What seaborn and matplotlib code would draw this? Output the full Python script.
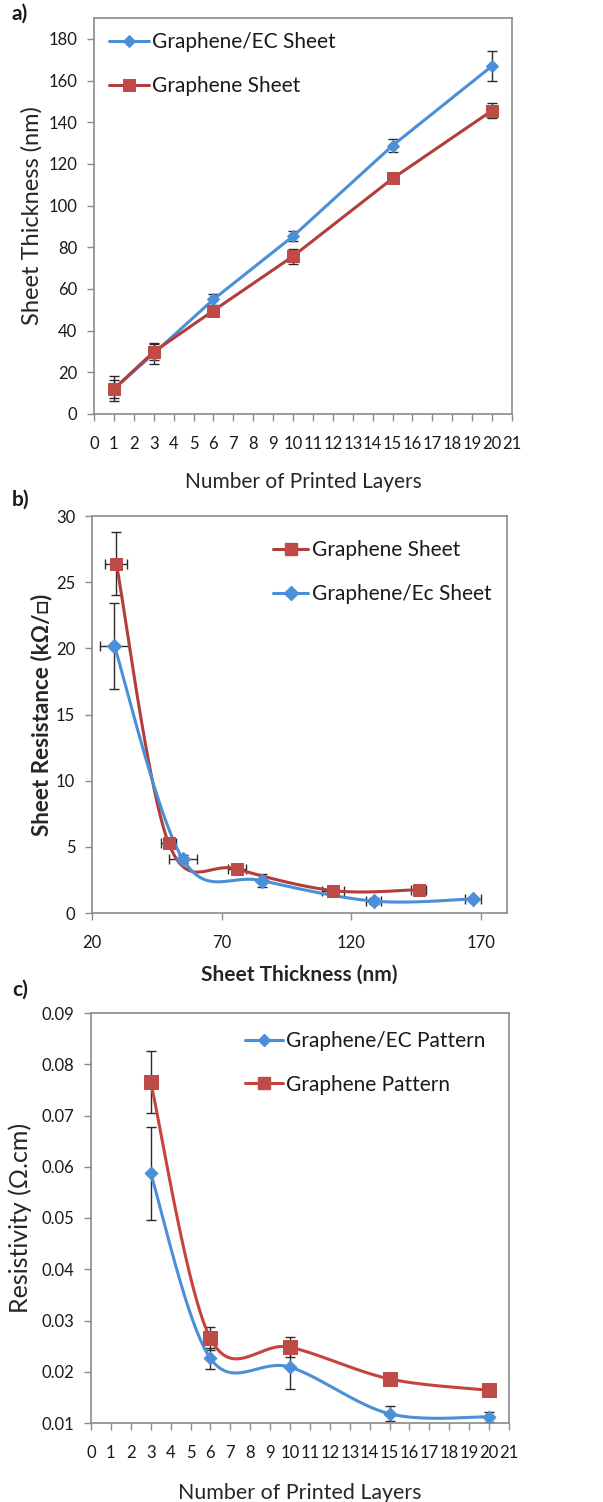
import numpy as np
import pandas as pd
import matplotlib
matplotlib.use('Agg')
import matplotlib.pyplot as plt
import seaborn as sns
from matplotlib.lines import Line2D

# ---- data ----
layers_a = [1, 3, 6, 10, 15, 20]
ec_thick = [12, 29, 55, 85.3, 128.8, 167]
ec_thick_err = [6, 5, 2.5, 2.5, 3, 7]
gr_thick = [12, 29.8, 49.6, 75.7, 113, 145.6]
gr_thick_err = [4.5, 4, 2, 3.5, 2, 3.5]

gr_b_x = [29.4, 49.5, 75.8, 113, 145.9]
gr_b_xerr = [4.2, 3, 3.5, 4.3, 3]
gr_b_y = [26.4, 5.3, 3.33, 1.69, 1.76]
gr_b_yerr = [2.4, 0.4, 0.2, 0.2, 0.15]
ec_b_x = [28.6, 55, 85.4, 128.6, 166.8]
ec_b_xerr = [5.6, 5.3, 0.5, 3, 3]
ec_b_y = [20.2, 4.08, 2.45, 0.9, 1.06]
ec_b_yerr = [3.25, 0.3, 0.5, 0.2, 0.15]

layers_c = [3, 6, 10, 15, 20]
ec_res = [0.0587, 0.0226, 0.0209, 0.0118, 0.0112]
ec_res_err = [0.009, 0.002, 0.0043, 0.0015, 0.001]
gr_res = [0.0765, 0.0265, 0.0248, 0.0186, 0.0164]
gr_res_err = [0.006, 0.0022, 0.002, 0.0012, 0.0005]

BLUE = '#4A8FD8'
RED = '#BE4B48'
RED_LINE = '#B23E3C'
ERR = '#2b2b2b'
SPINE = '#8a8a8a'


def smooth(x, y, xlim, ylim, w, h, n=40):
    # Excel-like smoothed line: cardinal Bezier through the points, in screen space
    px = (np.asarray(x, float) - xlim[0]) / (xlim[1] - xlim[0]) * w
    py = (np.asarray(y, float) - ylim[0]) / (ylim[1] - ylim[0]) * h
    pts = np.column_stack([px, py])
    out = []
    for i in range(len(pts) - 1):
        p0 = pts[max(i - 1, 0)]
        p1 = pts[i]
        p2 = pts[i + 1]
        p3 = pts[min(i + 2, len(pts) - 1)]
        c1 = p1 + (p2 - p0) / 6
        c2 = p2 - (p3 - p1) / 6
        t = np.linspace(0, 1, n)[:, None]
        seg = ((1 - t) ** 3) * p1 + 3 * ((1 - t) ** 2) * t * c1 + 3 * (1 - t) * t ** 2 * c2 + t ** 3 * p2
        out.append(seg if i == 0 else seg[1:])
    out = np.vstack(out)
    sx = out[:, 0] / w * (xlim[1] - xlim[0]) + xlim[0]
    sy = out[:, 1] / h * (ylim[1] - ylim[0]) + ylim[0]
    return sx, sy


sns.set_style('white')
plt.rcParams['font.family'] = ['Lato', 'DejaVu Sans']
plt.rcParams['text.color'] = '#1a1a1a'

fig = plt.figure(figsize=(6.03, 15.02), dpi=100)
W, H = 603, 1502


def make_axes(left, top, right, bottom):
    return fig.add_axes([left / W, 1 - bottom / H, (right - left) / W, (bottom - top) / H])


def style(ax):
    for s in ax.spines.values():
        s.set_color(SPINE)
        s.set_linewidth(1.2)
    ax.tick_params(direction='out', length=5, width=1, color=SPINE, labelsize=12,
                   labelcolor='#1a1a1a', bottom=True, left=True, top=False, right=False)
    ax.tick_params(axis='x', pad=10.5)
    ax.tick_params(axis='y', pad=7)


# ==================== a) ====================
ax1 = make_axes(94, 18, 512, 414)
style(ax1)
ax1.errorbar(layers_a, ec_thick, yerr=ec_thick_err, fmt='none', ecolor=ERR, elinewidth=1, capsize=3.5, zorder=2)
ax1.errorbar(layers_a, gr_thick, yerr=gr_thick_err, fmt='none', ecolor=ERR, elinewidth=1, capsize=3.5, zorder=2)
sns.lineplot(x=layers_a, y=ec_thick, ax=ax1, color=BLUE, lw=2.2, marker='D', markersize=6,
             markeredgecolor=BLUE, label='Graphene/EC Sheet', zorder=3)
sns.lineplot(x=layers_a, y=gr_thick, ax=ax1, color=RED_LINE, lw=2.2, marker='s', markersize=9,
             markerfacecolor=RED, markeredgecolor=RED, label='Graphene Sheet', zorder=4)
ax1.set_xlim(0, 21)
ax1.set_ylim(0, 190)
ax1.set_xticks(range(0, 22))
ax1.set_yticks(range(0, 181, 20))
ax1.set_xlabel('Number of Printed Layers', fontsize=15, labelpad=15)
ax1.set_ylabel('Sheet Thickness (nm)', fontsize=17, labelpad=4)
ax1.legend(loc='upper left', bbox_to_anchor=(0.011, 0.99), frameon=False, fontsize=15,
           handlelength=1.9, handletextpad=0.15, labelspacing=1.13, borderpad=0)

# ==================== b) ====================
ax2 = make_axes(92, 516, 507, 913)
style(ax2)
xl2, yl2 = (20, 180), (0, 30)
ax2.errorbar(gr_b_x, gr_b_y, xerr=gr_b_xerr, yerr=gr_b_yerr, fmt='none', ecolor=ERR, elinewidth=1, capsize=3.5, zorder=2)
ax2.errorbar(ec_b_x, ec_b_y, xerr=ec_b_xerr, yerr=ec_b_yerr, fmt='none', ecolor=ERR, elinewidth=1, capsize=3.5, zorder=2)
sx, sy = smooth(gr_b_x, gr_b_y, xl2, yl2, 415, 397)
sns.lineplot(x=sx, y=sy, ax=ax2, sort=False, estimator=None, color=RED_LINE, lw=2.2, zorder=3)
sx, sy = smooth(ec_b_x, ec_b_y, xl2, yl2, 415, 397)
sns.lineplot(x=sx, y=sy, ax=ax2, sort=False, estimator=None, color=BLUE, lw=2.2, zorder=3)
sns.scatterplot(x=gr_b_x, y=gr_b_y, ax=ax2, marker='s', s=80, color=RED, edgecolor=RED, zorder=4)
sns.scatterplot(x=ec_b_x, y=ec_b_y, ax=ax2, marker='D', s=55, color=BLUE, edgecolor=BLUE, zorder=4)
ax2.set_xlim(*xl2)
ax2.set_ylim(*yl2)
ax2.set_xticks([20, 70, 120, 170])
ax2.set_yticks(range(0, 31, 5))
ax2.set_xlabel('Sheet Thickness (nm)', fontsize=15, fontweight='bold', labelpad=10)
ax2.set_ylabel('Sheet Resistance (k\u03a9/\u25a1)', fontsize=16.2, fontweight='bold', labelpad=3)
h2 = [Line2D([], [], color=RED_LINE, lw=2.2, marker='s', markersize=9, markerfacecolor=RED, markeredgecolor=RED),
      Line2D([], [], color=BLUE, lw=2.2, marker='D', markersize=7, markeredgecolor=BLUE)]
ax2.legend(h2, ['Graphene Sheet', 'Graphene/Ec Sheet'], loc='upper left', bbox_to_anchor=(0.411, 0.965),
           frameon=False, fontsize=15, handlelength=1.7, handletextpad=0.15, labelspacing=1.13, borderpad=0)

# ==================== c) ====================
ax3 = make_axes(91, 1013, 509, 1423)
style(ax3)
xl3, yl3 = (0, 21), (0.01, 0.09)
ax3.errorbar(layers_c, ec_res, yerr=ec_res_err, fmt='none', ecolor=ERR, elinewidth=1, capsize=3.5, zorder=2)
ax3.errorbar(layers_c, gr_res, yerr=gr_res_err, fmt='none', ecolor=ERR, elinewidth=1, capsize=3.5, zorder=2)
sx, sy = smooth(layers_c, ec_res, xl3, yl3, 418, 410)
sns.lineplot(x=sx, y=sy, ax=ax3, sort=False, estimator=None, color=BLUE, lw=2.2, zorder=3)
sx, sy = smooth(layers_c, gr_res, xl3, yl3, 418, 410)
sns.lineplot(x=sx, y=sy, ax=ax3, sort=False, estimator=None, color='#C8423F', lw=2.2, zorder=3)
sns.scatterplot(x=layers_c, y=ec_res, ax=ax3, marker='D', s=45, color=BLUE, edgecolor=BLUE, zorder=4)
sns.scatterplot(x=layers_c, y=gr_res, ax=ax3, marker='s', s=90, color=RED, edgecolor=RED, zorder=4)
ax3.set_xlim(*xl3)
ax3.set_ylim(*yl3)
ax3.set_xticks(range(0, 22))
ax3.set_yticks(np.arange(0.01, 0.0901, 0.01))
ax3.set_yticklabels([f'{v:.2f}' for v in np.arange(0.01, 0.0901, 0.01)])
ax3.set_xlabel('Number of Printed Layers', fontsize=15.4, labelpad=16)
ax3.set_ylabel('Resistivity (\u03a9.cm)', fontsize=18, labelpad=7)
h3 = [Line2D([], [], color=BLUE, lw=2.2, marker='D', markersize=6, markeredgecolor=BLUE),
      Line2D([], [], color='#C8423F', lw=2.2, marker='s', markersize=9, markerfacecolor=RED, markeredgecolor=RED)]
ax3.legend(h3, ['Graphene/EC Pattern', 'Graphene Pattern'], loc='upper left', bbox_to_anchor=(0.343, 0.982),
           frameon=False, fontsize=15, handlelength=1.85, handletextpad=0.15, labelspacing=1.15, borderpad=0)

# panel letters
for lab, ypix in [('a)', 14), ('b)', 500), ('c)', 990)]:
    fig.text(12 / W, 1 - ypix / H, lab, fontsize=15, fontweight='bold', va='center', ha='left')

fig.savefig('out.png', dpi=100)
